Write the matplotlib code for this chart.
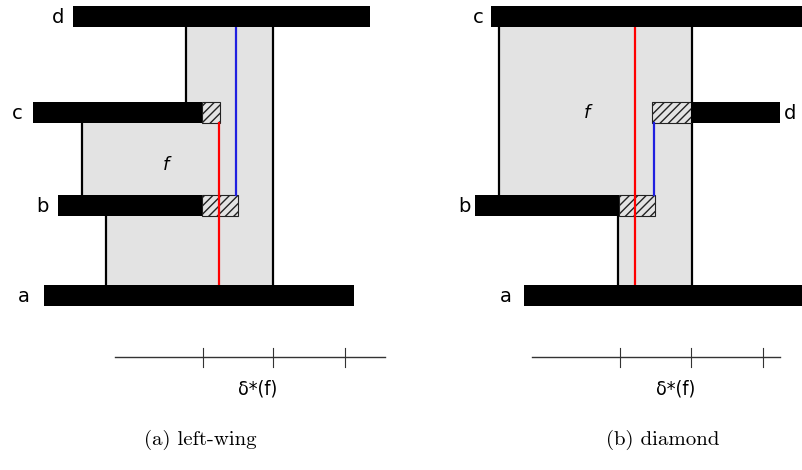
import matplotlib.pyplot as plt
from matplotlib.patches import Rectangle

plt.rcParams['hatch.linewidth'] = 1.0

# bars: label, top y, bar left, bar right, hatch left, hatch right (pixel units)
left_names = ['d', 'c', 'b', 'a']
left_top = [6, 102, 195, 285]
left_x0 = [73, 33, 58, 44]
left_x1 = [370, 202, 202, 354]
left_h0 = [None, 202, 202, None]
left_h1 = [None, 220, 238, None]
left_lab_x = [58, 17, 42, 24]

right_names = ['c', 'd', 'b', 'a']
right_top = [6, 102, 195, 285]
right_x0 = [491, 691, 475, 524]
right_x1 = [803, 780, 619, 803]
right_h0 = [None, 652, 619, None]
right_h1 = [None, 691, 655, None]
right_lab_x = [478, 790, 464, 506]

bar_h = 21

# gray region f as horizontal slabs: (y top, y bottom, x left, x right)
left_gray = [(27, 102, 186, 273), (102, 195, 82, 273), (195, 285, 106, 273)]
right_gray = [(27, 195, 499, 692), (195, 285, 618, 692)]

# black outline segments: x, y from, y to
left_edges = [(186, 27, 102), (82, 123, 195), (106, 215, 285), (273, 27, 285)]
right_edges = [(499, 27, 195), (618, 215, 285), (692, 27, 285)]

# red / blue lines
left_red = (219, 123, 285)
left_blue = (236, 27, 195)
right_red = (635, 27, 285)
right_blue = (654, 123, 195)

# axis below each panel
left_axis = (115, 385)
left_ticks = [203, 273, 345]
right_axis = (532, 780)
right_ticks = [620, 691, 763]

captions = ['(a) left-wing', '(b) diamond']
caption_x = [200, 663]
f_pos = [(166, 165), (587, 113)]

fig = plt.figure(figsize=(8.03, 4.70), dpi=100)
ax = fig.add_axes([0, 0, 1, 1])
ax.set_xlim(0, 803)
ax.set_ylim(470, 0)
ax.axis('off')


def panel(names, top, x0, x1, h0, h1, labx, gray, edges, red, blue, axis, ticks):
    for (ya, yb, xa, xb) in gray:
        ax.add_patch(Rectangle((xa, ya), xb - xa, yb - ya, facecolor='#e3e3e3',
                               edgecolor='none', zorder=1))
    for (x, ya, yb) in edges:
        ax.plot([x, x], [ya, yb], color='black', lw=1.6, zorder=2)
    ax.plot([red[0]] * 2, red[1:], color='#ff0000', lw=1.6, zorder=3)
    ax.plot([blue[0]] * 2, blue[1:], color='#2020e0', lw=1.6, zorder=3)
    for i in range(len(names)):
        ax.add_patch(Rectangle((x0[i], top[i]), x1[i] - x0[i], bar_h,
                               facecolor='black', edgecolor='none', zorder=4))
        if h0[i] is not None:
            ax.add_patch(Rectangle((h0[i], top[i]), h1[i] - h0[i], bar_h,
                                   facecolor='#e3e3e3', edgecolor='#222222',
                                   hatch='////', lw=0.8, zorder=2.5))
        ax.text(labx[i], top[i] + bar_h / 2 + 1, names[i], fontsize=14,
                ha='center', va='center', family='DejaVu Sans')
    ax.plot(axis, [357, 357], color='#333333', lw=1.0)
    for t in ticks:
        ax.plot([t, t], [348, 367], color='#333333', lw=0.8)
    ax.text(ticks[1] - 15, 389, r'δ*(f)', fontsize=14, ha='center', va='center',
            family='DejaVu Sans', fontstretch='condensed')


panel(left_names, left_top, left_x0, left_x1, left_h0, left_h1, left_lab_x,
      left_gray, left_edges, left_red, left_blue, left_axis, left_ticks)
panel(right_names, right_top, right_x0, right_x1, right_h0, right_h1, right_lab_x,
      right_gray, right_edges, right_red, right_blue, right_axis, right_ticks)

for (fx, fy) in f_pos:
    ax.text(fx, fy, 'f', fontsize=13, style='italic', ha='center', va='center')

for i in range(2):
    ax.text(caption_x[i], 440, captions[i], fontsize=15, ha='center', va='center',
            family='cmr10')

fig.savefig('out.png', dpi=100)
